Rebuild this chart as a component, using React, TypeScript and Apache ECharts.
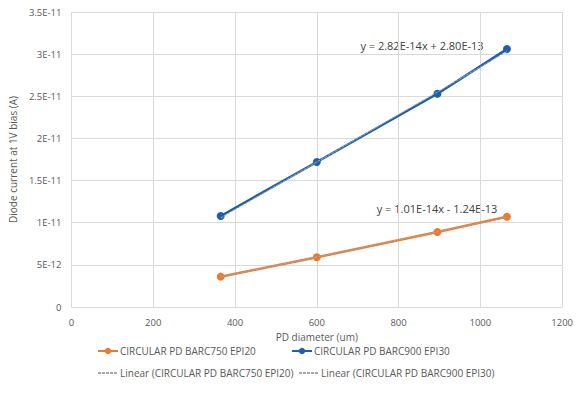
import React, { useEffect, useRef } from "react";
import * as echarts from "echarts";

const xValues = [365, 600, 895, 1065];
const barc750 = [3.6e-12, 5.9e-12, 8.9e-12, 1.07e-11];
const barc900 = [1.08e-11, 1.72e-11, 2.53e-11, 3.06e-11];
const trendX = [365, 1065];
const trend750 = [3.56e-12, 1.064e-11];
const trend900 = [1.057e-11, 3.031e-11];
const yTickLabels = ["0", "5E-12", "1E-11", "1.5E-11", "2E-11", "2.5E-11", "3E-11", "3.5E-11"];
const seriesNames = [
  "CIRCULAR PD BARC750 EPI20",
  "CIRCULAR PD BARC900 EPI30",
  "Linear (CIRCULAR PD BARC750 EPI20)",
  "Linear (CIRCULAR PD BARC900 EPI30)",
];
const equations = ["y = 2.82E-14x + 2.80E-13", "y = 1.01E-14x - 1.24E-13"];

const ORANGE = "#EB7A2E";
const BLUE = "#1F60AC";
const GRAY = "#A6A6A6";
const TEXT = "#595959";
const FONT = "'Open Sans', 'Liberation Sans', sans-serif";

export default function App() {
  const ref = useRef<HTMLDivElement>(null);
  useEffect(() => {
    if (!ref.current) return;
    const chart = echarts.init(ref.current, null, { renderer: "svg" });
    const pair = (xs: number[], ys: number[]) => xs.map((x, i) => [x, ys[i]]);
    const legendBase = {
      itemWidth: 20,
      itemHeight: 8,
      textStyle: { fontSize: 10, color: TEXT, fontFamily: FONT, padding: [0, 0, 0, -3] },
      padding: 0,
    };
    chart.setOption({
      animation: false,
      textStyle: { fontFamily: FONT },
      grid: { left: 67, right: 10, top: 12, bottom: 87 },
      xAxis: {
        type: "value",
        min: 0,
        max: 1200,
        interval: 200,
        name: "PD diameter (um)",
        nameLocation: "middle",
        nameGap: 25,
        nameTextStyle: { fontSize: 10, color: TEXT, fontFamily: FONT },
        axisLine: { show: false },
        axisTick: { show: false },
        axisLabel: { fontSize: 9.5, color: TEXT, margin: 10, fontFamily: FONT, formatter: (v: number) => String(v) },
        splitLine: { lineStyle: { color: "#D9D9D9" } },
      },
      yAxis: {
        type: "value",
        min: 0,
        max: 3.5e-11,
        interval: 5e-12,
        name: "Diode current at 1V bias (A)",
        nameLocation: "middle",
        nameGap: 49,
        nameTextStyle: { fontSize: 10, color: TEXT, fontFamily: FONT },
        axisLine: { show: false },
        axisTick: { show: false },
        axisLabel: {
          fontSize: 9.5,
          color: TEXT,
          margin: 10,
          fontFamily: FONT,
          formatter: (v: number) => yTickLabels[Math.round(v / 5e-12)] ?? "",
        },
        splitLine: { lineStyle: { color: "#D9D9D9" } },
      },
      legend: [
        { ...legendBase, left: 97, top: 346, data: [{ name: seriesNames[0] }] },
        { ...legendBase, left: 291, top: 346, data: [{ name: seriesNames[1] }] },
        { ...legendBase, left: 97, top: 368, data: [{ name: seriesNames[2], itemStyle: { opacity: 0 } }] },
        { ...legendBase, left: 298, top: 368, data: [{ name: seriesNames[3], itemStyle: { opacity: 0 } }] },
      ],
      series: [
        {
          name: seriesNames[2],
          type: "line",
          data: pair(trendX, trend750),
          symbol: "none",
          lineStyle: { color: GRAY, width: 1, type: [3, 1] },
          itemStyle: { color: GRAY },
          z: 3,
        },
        {
          name: seriesNames[3],
          type: "line",
          data: pair(trendX, trend900),
          symbol: "none",
          lineStyle: { color: GRAY, width: 1, type: [3, 1] },
          itemStyle: { color: GRAY },
          z: 3,
        },
        {
          name: seriesNames[0],
          type: "line",
          data: pair(xValues, barc750),
          symbol: "circle",
          symbolSize: 8,
          lineStyle: { color: ORANGE, width: 2.5 },
          itemStyle: { color: ORANGE },
          z: 2,
        },
        {
          name: seriesNames[1],
          type: "line",
          data: pair(xValues, barc900),
          symbol: "circle",
          symbolSize: 8,
          lineStyle: { color: BLUE, width: 2.5 },
          itemStyle: { color: BLUE },
          z: 2,
        },
      ],
      graphic: [
        {
          type: "text",
          x: 422,
          y: 45,
          style: {
            text: equations[0],
            fontSize: 11,
            fill: "#404040",
            fontFamily: FONT,
            align: "center",
            verticalAlign: "middle",
          },
        },
        {
          type: "text",
          x: 437,
          y: 208,
          style: {
            text: equations[1],
            fontSize: 11,
            fill: "#404040",
            fontFamily: FONT,
            align: "center",
            verticalAlign: "middle",
          },
        },
      ],
    });
    return () => chart.dispose();
  }, []);
  return <div ref={ref} style={{ width: 576, height: 394, position: "absolute", left: 0, top: 0, background: "#fff" }} />;
}
